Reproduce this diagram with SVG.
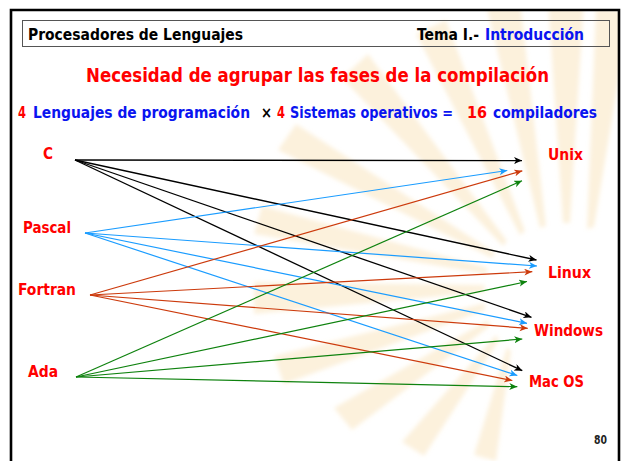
<svg xmlns="http://www.w3.org/2000/svg" width="623" height="461" viewBox="0 0 623 461">
<style>
  text { font-family: "DejaVu Sans", "Liberation Sans", sans-serif; font-weight: bold; font-stretch: condensed; }
  .hdr { font-size: 15px; fill: #000; }
  .title { font-size: 20px; fill: #ff0000; }
  .sub { font-size: 15.5px; }
  .red { fill: #ff0000; }
  .blue { fill: #0a14f0; }
  .blk { fill: #000; }
  .lbl { font-size: 16px; fill: #ff0000; }
  .num { font-size: 11.5px; fill: #222; }
  .ray { fill: #f6d9a2; opacity: 0.38; }
  .c { stroke: #000; stroke-width: 1.3; fill: none; marker-end: url(#aK); }
  .p { stroke: #1a9cff; stroke-width: 1.2; fill: none; marker-end: url(#aB); }
  .f { stroke: #cc3a0c; stroke-width: 1.2; fill: none; marker-end: url(#aR); }
  .a { stroke: #0e820e; stroke-width: 1.2; fill: none; marker-end: url(#aG); }
</style>
<defs>
  <marker id="aK" markerUnits="userSpaceOnUse" markerWidth="9" markerHeight="8" refX="8" refY="3.5" orient="auto"><path d="M0,0 L8,3.5 L0,7 L2.2,3.5 z" fill="#000"/></marker>
  <marker id="aB" markerUnits="userSpaceOnUse" markerWidth="9" markerHeight="8" refX="8" refY="3.5" orient="auto"><path d="M0,0 L8,3.5 L0,7 L2.2,3.5 z" fill="#1a9cff"/></marker>
  <marker id="aR" markerUnits="userSpaceOnUse" markerWidth="9" markerHeight="8" refX="8" refY="3.5" orient="auto"><path d="M0,0 L8,3.5 L0,7 L2.2,3.5 z" fill="#cc3a0c"/></marker>
  <marker id="aG" markerUnits="userSpaceOnUse" markerWidth="9" markerHeight="8" refX="8" refY="3.5" orient="auto"><path d="M0,0 L8,3.5 L0,7 L2.2,3.5 z" fill="#0e820e"/></marker>
  <clipPath id="frameClip"><rect x="12" y="11" width="606" height="450"/></clipPath>
  <filter id="soft" x="-10%" y="-10%" width="120%" height="120%"><feGaussianBlur stdDeviation="2"/></filter>
</defs>
<rect x="0" y="0" width="623" height="461" fill="#fff"/>
<g id="watermark" clip-path="url(#frameClip)">
  <g filter="url(#soft)">
    <polygon class="ray" points="587,229 594,227 630,11 596,8"/>
    <polygon class="ray" points="563,223 570,223 584,0 548,0"/>
    <polygon class="ray" points="540,228 546,226 520,0 486,4"/>
    <polygon class="ray" points="520,235 525,231 446,20 416,34"/>
    <polygon class="ray" points="503,246 507,241 368,54 342,78"/>
    <polygon class="ray" points="492,258 495,253 296,124 278,150"/>
    <polygon class="ray" points="486,274 488,268 262,206 254,234"/>
    <polygon class="ray" points="484,292 485,285 254,282 254,314"/>
    <polygon class="ray" points="485,310 485,303 274,356 284,384"/>
    <polygon class="ray" points="490,326 488,320 334,408 352,430"/>
    <polygon class="ray" points="499,340 496,335 402,442 424,456"/>
    <polygon class="ray" points="511,351 507,347 474,455 496,461"/>
  </g>
</g>
<g id="frame">
  <path d="M11,470 V10 H619 V470" fill="none" stroke="#000" stroke-width="2.6"/>
</g>
<g id="header">
  <rect x="22.5" y="20.5" width="587" height="26" fill="none" stroke="#555" stroke-width="1"/>
  <text class="hdr" x="28" y="39.5" textLength="215" lengthAdjust="spacingAndGlyphs">Procesadores de Lenguajes</text>
  <text class="hdr" x="417" y="39.5" textLength="62" lengthAdjust="spacingAndGlyphs">Tema I.-</text>
  <text class="hdr blue" x="485" y="39.5" textLength="99" lengthAdjust="spacingAndGlyphs">Introducción</text>
</g>
<g id="title">
  <text class="title" x="86" y="82" textLength="463" lengthAdjust="spacingAndGlyphs">Necesidad de agrupar las fases de la compilación</text>
</g>
<g id="subtitle">
  <text class="sub red" x="18" y="118" textLength="8" lengthAdjust="spacingAndGlyphs">4</text>
  <text class="sub blue" x="33" y="118" textLength="217" lengthAdjust="spacingAndGlyphs">Lenguajes de programación</text>
  <text class="sub blk" x="261" y="118" textLength="11" lengthAdjust="spacingAndGlyphs">×</text>
  <text class="sub red" x="277" y="118" textLength="8" lengthAdjust="spacingAndGlyphs">4</text>
  <text class="sub blue" x="290" y="118" textLength="163" lengthAdjust="spacingAndGlyphs">Sistemas operativos =</text>
  <text class="sub red" x="467" y="118" textLength="20" lengthAdjust="spacingAndGlyphs">16</text>
  <text class="sub blue" x="493" y="118" textLength="104" lengthAdjust="spacingAndGlyphs">compiladores</text>
</g>
<g id="connectors">
  <line class="c" x1="75" y1="160" x2="522" y2="160.6"/>
  <line class="c" x1="75" y1="160" x2="536.5" y2="260"/>
  <line class="c" x1="75" y1="160" x2="531.5" y2="317.3"/>
  <line class="c" x1="75" y1="160" x2="522.3" y2="370.7"/>
  <line class="p" x1="85" y1="233" x2="507.3" y2="170.5"/>
  <line class="p" x1="85" y1="233" x2="537" y2="266"/>
  <line class="p" x1="85" y1="233" x2="527" y2="323.3"/>
  <line class="p" x1="85" y1="233" x2="517.3" y2="375.5"/>
  <line class="f" x1="90" y1="295" x2="522.3" y2="170.8"/>
  <line class="f" x1="90" y1="295" x2="532.3" y2="271.7"/>
  <line class="f" x1="90" y1="295" x2="527.7" y2="328.3"/>
  <line class="f" x1="90" y1="295" x2="512.3" y2="380.5"/>
  <line class="a" x1="76" y1="377" x2="522" y2="180.8"/>
  <line class="a" x1="76" y1="377" x2="527" y2="281.5"/>
  <line class="a" x1="76" y1="377" x2="522.3" y2="339"/>
  <line class="a" x1="76" y1="377" x2="517.3" y2="386.7"/>
</g>
<g id="node-c"><text class="lbl" x="43" y="159" textLength="10" lengthAdjust="spacingAndGlyphs">C</text></g>
<g id="node-pascal"><text class="lbl" x="23" y="233" textLength="48" lengthAdjust="spacingAndGlyphs">Pascal</text></g>
<g id="node-fortran"><text class="lbl" x="18" y="295" textLength="58" lengthAdjust="spacingAndGlyphs">Fortran</text></g>
<g id="node-ada"><text class="lbl" x="28" y="377" textLength="30" lengthAdjust="spacingAndGlyphs">Ada</text></g>
<g id="node-unix"><text class="lbl" x="548" y="160" textLength="35" lengthAdjust="spacingAndGlyphs">Unix</text></g>
<g id="node-linux"><text class="lbl" x="548" y="278" textLength="43" lengthAdjust="spacingAndGlyphs">Linux</text></g>
<g id="node-windows"><text class="lbl" x="534" y="335.5" textLength="69" lengthAdjust="spacingAndGlyphs">Windows</text></g>
<g id="node-macos"><text class="lbl" x="529" y="386.7" textLength="55" lengthAdjust="spacingAndGlyphs">Mac OS</text></g>
<g id="page"><text class="num" x="594" y="444" textLength="13" lengthAdjust="spacingAndGlyphs">80</text></g>
</svg>
